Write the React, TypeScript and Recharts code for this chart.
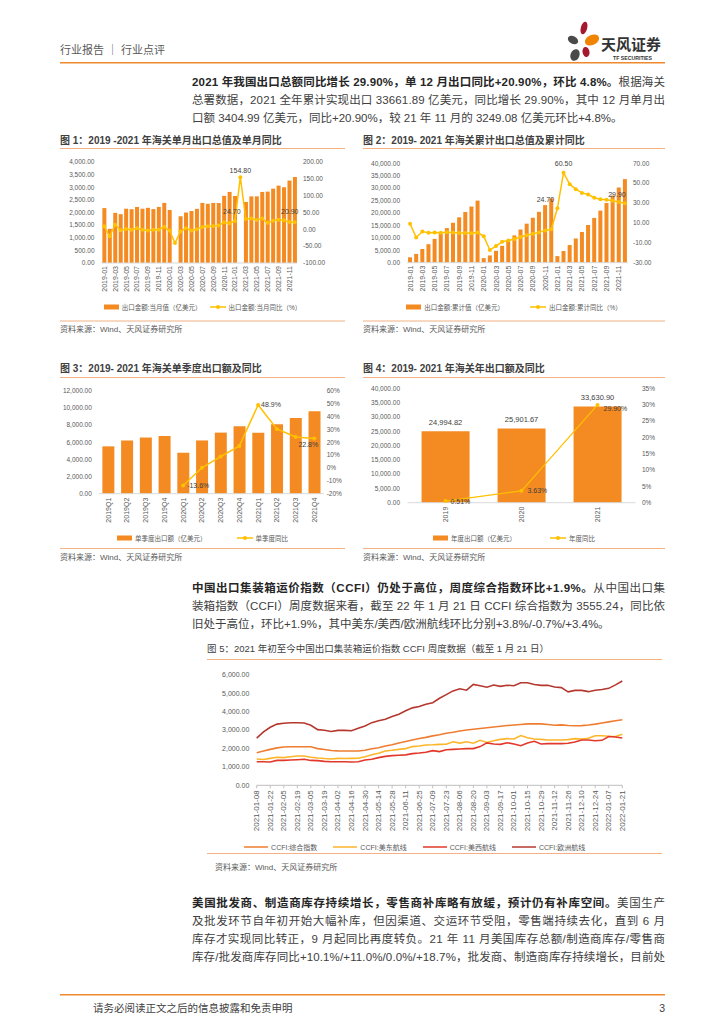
import React from 'react';
import { ComposedChart, LineChart, Bar, Line, XAxis, YAxis, Legend, LabelList } from 'recharts';

const FONT = '"Liberation Sans", "Noto Sans CJK SC", sans-serif';
const ORANGE = '#F48A22';
const GOLD = '#FFC000';
const AXIS_TEXT = '#595959';
const RULE = '#F4B183';

// 图1 / 图2 —— 月度
const months = [
  '2019-01', '2019-02', '2019-03', '2019-04', '2019-05', '2019-06', '2019-07', '2019-08', '2019-09', '2019-10', '2019-11', '2019-12',
  '2020-01', '2020-02', '2020-03', '2020-04', '2020-05', '2020-06', '2020-07', '2020-08', '2020-09', '2020-10', '2020-11', '2020-12',
  '2021-01', '2021-02', '2021-03', '2021-04', '2021-05', '2021-06', '2021-07', '2021-08', '2021-09', '2021-10', '2021-11', '2021-12',
];
const monthlyExport = [
  2175, 1354, 1987, 1934, 2150, 2130, 2220, 2150, 2185, 2135, 2220, 2380,
  2099, null, 1851, 2000, 2060, 2145, 2380, 2345, 2380, 2375, 2660, 2815,
  2655, null, 2415, 2638, 2640, 2814, 2827, 2945, 3065, 3000, 3265, 3405,
];
const monthlyYoy = [
  9.1, -20.7, 13.8, -2.7, 1.1, -1.3, 3.3, -1.0, -3.2, -0.9, -1.1, 7.6,
  -3.5, -40.6, -6.6, 3.5, -3.3, 0.5, 7.2, 9.5, 9.9, 11.4, 21.1, 18.1,
  24.7, 154.8, 30.6, 32.3, 27.9, 32.2, 19.3, 25.6, 28.1, 27.1, 22.0, 20.9,
];
const cumExport = [
  2175, 3529, 5516, 7450, 9588, 11716, 13931, 16079, 18260, 20389, 22606, 24982,
  1850, 2924, 4775, 6778, 8845, 10981, 13354, 15707, 18100, 20472, 23153, 25906,
  2655, 4689, 7101, 9735, 12374, 15188, 18015, 20958, 24015, 27017, 30273, 33640,
];
const cumYoy = [
  9.1, -4.6, 1.4, 0.2, 0.4, 0.1, 0.6, 0.4, -0.1, -0.2, -0.3, 0.5,
  -3.5, -17.2, -13.3, -9.0, -7.7, -6.2, -4.1, -2.3, -0.8, 0.5, 2.5, 3.6,
  24.7, 60.5, 49.0, 44.0, 40.2, 38.6, 35.4, 33.8, 33.3, 32.3, 31.1, 29.9,
];
const fig1LeftTicks = [0, 500, 1000, 1500, 2000, 2500, 3000, 3500, 4000];
const fig1RightTicks = [-100, -50, 0, 50, 100, 150, 200];
const fig2LeftTicks = [0, 5000, 10000, 15000, 20000, 25000, 30000, 35000, 40000];
const fig2RightTicks = [-30, -20, -10, 0, 10, 20, 30, 40, 50, 60, 70];

// 图3 —— 季度
const quarters = ['2019Q1', '2019Q2', '2019Q3', '2019Q4', '2020Q1', '2020Q2', '2020Q3', '2020Q4', '2021Q1', '2021Q2', '2021Q3', '2021Q4'];
const quarterExport = [5516, 6200, 6544, 6722, 4775, 6206, 7119, 7872, 7101, 8087, 8827, 9600];
const quarterYoy = [null, null, null, null, -13.6, 0.1, 8.8, 17.1, 48.9, 30.3, 24.0, 22.8];
const fig3LeftTicks = [0, 2000, 4000, 6000, 8000, 10000, 12000];
const fig3RightTicks = [-20, -10, 0, 10, 20, 30, 40, 50, 60];

// 图4 —— 年度
const years = ['2019', '2020', '2021'];
const annualExport = [24994.82, 25901.67, 33630.9];
const annualYoy = [0.51, 3.63, 29.9];
const fig4LeftTicks = [0, 5000, 10000, 15000, 20000, 25000, 30000, 35000, 40000];
const fig4RightTicks = [0, 5, 10, 15, 20, 25, 30, 35];

// 图5 —— CCFI 周度
const weeks = [
  '2021-01-08', '2021-01-15', '2021-01-22', '2021-01-29', '2021-02-05', '2021-02-12', '2021-02-19', '2021-02-26',
  '2021-03-05', '2021-03-12', '2021-03-19', '2021-03-26', '2021-04-02', '2021-04-09', '2021-04-16', '2021-04-23',
  '2021-04-30', '2021-05-07', '2021-05-14', '2021-05-21', '2021-05-28', '2021-06-04', '2021-06-11', '2021-06-18',
  '2021-06-25', '2021-07-02', '2021-07-09', '2021-07-16', '2021-07-23', '2021-07-30', '2021-08-06', '2021-08-13',
  '2021-08-20', '2021-08-27', '2021-09-03', '2021-09-10', '2021-09-17', '2021-09-24', '2021-10-01', '2021-10-08',
  '2021-10-15', '2021-10-22', '2021-10-29', '2021-11-05', '2021-11-12', '2021-11-19', '2021-11-26', '2021-12-03',
  '2021-12-10', '2021-12-17', '2021-12-24', '2021-12-31', '2022-01-07', '2022-01-14', '2022-01-21',
];
const ccfiComposite = [
  1771, 1860, 1950, 2030, 2080, 2095, 2095, 2095, 2090, 1990, 1940, 1890, 1870, 1860, 1860, 1860,
  1900, 1980, 2040, 2130, 2200, 2300, 2380, 2460, 2540, 2600, 2680, 2740, 2820, 2880, 2950, 3000,
  3040, 3080, 3120, 3160, 3200, 3240, 3270, 3300, 3330, 3340, 3330, 3300, 3260, 3280, 3240, 3230,
  3240, 3270, 3320, 3380, 3440, 3500, 3555,
];
const ccfiUsEast = [
  1430, 1400, 1460, 1520, 1500, 1550, 1590, 1590, 1520, 1480, 1450, 1430, 1460, 1450, 1460, 1470,
  1550, 1660, 1740, 1860, 1900, 1950, 1990, 2100, 2130, 2190, 2200, 2220, 2230, 2360, 2290, 2360,
  2280, 2440, 2320, 2420, 2490, 2530, 2510, 2700, 2580, 2510, 2490, 2460, 2460, 2460, 2480, 2530,
  2510, 2550, 2690, 2690, 2660, 2650, 2770,
];
const ccfiUsWest = [
  1280, 1280, 1265, 1350, 1350, 1370, 1390, 1410, 1350, 1340, 1300, 1280, 1280, 1280, 1265, 1280,
  1370, 1410, 1500, 1570, 1610, 1630, 1650, 1720, 1750, 1790, 1880, 1830, 1930, 1950, 1970, 1990,
  1990, 2100, 2300, 2240, 2220, 2310, 2240, 2150, 2300, 2390, 2240, 2260, 2260, 2260, 2280, 2350,
  2460, 2460, 2420, 2440, 2650, 2620, 2570,
];
const ccfiEurope = [
  2560, 2900, 3150, 3320, 3370, 3390, 3390, 3380, 3260, 3020, 2990, 2920, 2980, 2980, 2960, 3090,
  3220, 3400, 3500, 3580, 3730, 3860, 4040, 4200, 4270, 4400, 4480, 4720, 4920, 5120, 5240, 5160,
  5470, 5400, 5320, 5440, 5370, 5430, 5400, 5560, 5560, 5470, 5420, 5430, 5330, 5300, 5070, 5150,
  5150, 5080, 5160, 5200, 5260, 5450, 5660,
];
const fig5Ticks = [0, 1000, 2000, 3000, 4000, 5000, 6000];

const fig1Data = months.map((m, i) => ({ m, v: monthlyExport[i], yoy: monthlyYoy[i] }));
const fig2Data = months.map((m, i) => ({ m, v: cumExport[i], yoy: cumYoy[i] }));
const fig3Data = quarters.map((m, i) => ({ m, v: quarterExport[i], yoy: quarterYoy[i] }));
const fig4Data = years.map((m, i) => ({ m, v: annualExport[i], yoy: annualYoy[i] }));
const fig5Data = weeks.map((m, i) => ({
  m, comp: ccfiComposite[i], east: ccfiUsEast[i], west: ccfiUsWest[i], eu: ccfiEurope[i],
}));

const money = (v: number) => v.toLocaleString('en-US', { minimumFractionDigits: 2, maximumFractionDigits: 2 });
const fix2 = (v: number) => v.toFixed(2);
const pct = (v: number) => `${v}%`;
const pct1 = (v: number) => `${v.toFixed(1)}%`;
const pct2 = (v: number) => `${v.toFixed(2)}%`;

const yTick = { fontSize: 6.5, fill: AXIS_TEXT, fontFamily: FONT };

const RotTick = ({ x, y, payload, size }: any) => (
  <text x={x} y={y} transform={`rotate(-90 ${x} ${y})`} textAnchor="end" dominantBaseline="central"
    fontSize={size} fill={AXIS_TEXT} fontFamily={FONT}>
    {payload.value}
  </text>
);

type LegItem = { kind: 'bar' | 'line' | 'dotline'; color: string; label: string };
const LegendRow = ({ items, gap, fontSize, height, lineLen = 16 }: { items: LegItem[]; gap: number; fontSize: number; height: number; lineLen?: number }) => (
  <div style={{ display: 'flex', justifyContent: 'center', alignItems: 'center', height, gap, fontFamily: FONT, fontSize, color: AXIS_TEXT, whiteSpace: 'nowrap' }}>
    {items.map((it) => (
      <span key={it.label} style={{ display: 'flex', alignItems: 'center', gap: 3 }}>
        <svg width={it.kind === 'bar' ? 15 : lineLen} height={8}>
          {it.kind === 'bar' ? (
            <rect x={0} y={1.5} width={15} height={5} fill={it.color} />
          ) : (
            <>
              <line x1={0} y1={4} x2={lineLen} y2={4} stroke={it.color} strokeWidth={1.5} />
              {it.kind === 'dotline' && <circle cx={lineLen / 2} cy={4} r={2} fill={it.color} />}
            </>
          )}
        </svg>
        {it.label}
      </span>
    ))}
  </div>
);

// 只给指定的点加数值标签
const pointLabels = (spots: Record<number, [number, number, string]>, fmt: (v: number) => string) => (p: any) => {
  const s = spots[p.index];
  if (!s || p.value == null) return null;
  const x = p.x ?? p.viewBox?.x;
  const y = p.y ?? p.viewBox?.y;
  return (
    <text key={`pl-${p.index}`} x={x + s[0]} y={y + s[1]} textAnchor={s[2] as any} dominantBaseline="central"
      fontSize={7} fill="#404040" fontFamily={FONT}>
      {fmt(p.value)}
    </text>
  );
};

const barTopLabel = (p: any) => {
  const vb = p.viewBox ?? p;
  const x = (vb.x ?? p.x) + (vb.width ?? p.width) / 2;
  const y = vb.y ?? p.y;
  return (
    <text key={`bl-${p.index}`} x={x} y={y - 9} textAnchor="middle" dominantBaseline="central" fontSize={7.5} fill="#404040" fontFamily={FONT}>
      {money(p.value)}
    </text>
  );
};

const Fig1 = () => (
  <ComposedChart width={285} height={170} data={fig1Data} margin={{ top: 12, right: 0, bottom: 5, left: 0 }} barCategoryGap="16%">
    <XAxis dataKey="m" interval={1} height={36} tickSize={0} tickMargin={3} tickLine={false} axisLine={{ stroke: '#D9D9D9' }}
      tick={(p: any) => <RotTick {...p} size={7} />} />
    <YAxis yAxisId="l" width={41.5} domain={[0, 4000]} ticks={fig1LeftTicks} tickFormatter={money} axisLine={false} tickLine={false} tickSize={0} tickMargin={7} tick={yTick} />
    <YAxis yAxisId="r" orientation="right" width={47.5} domain={[-100, 200]} ticks={fig1RightTicks} tickFormatter={money} axisLine={false} tickLine={false} tickSize={0} tickMargin={5.5} tick={yTick} />
    <Bar yAxisId="l" dataKey="v" fill={ORANGE} isAnimationActive={false} />
    <Line yAxisId="r" dataKey="yoy" stroke={GOLD} strokeWidth={1.5} dot={{ r: 2, fill: GOLD, stroke: 'none' }} activeDot={false} isAnimationActive={false}>
      <LabelList dataKey="yoy" content={pointLabels({ 24: [-3, -10, 'middle'], 25: [0, -7, 'middle'], 35: [-5, -11, 'middle'] }, fix2)} />
    </Line>
    <Legend verticalAlign="bottom" content={() => (
      <LegendRow height={16} gap={8} fontSize={6.5} items={[
        { kind: 'bar', color: ORANGE, label: '出口金额:当月值（亿美元）' },
        { kind: 'dotline', color: GOLD, label: '出口金额:当月同比（%）' },
      ]} />
    )} />
  </ComposedChart>
);

const Fig2 = () => (
  <ComposedChart width={302} height={170} data={fig2Data} margin={{ top: 13.3, right: 0, bottom: 5, left: 0 }} barCategoryGap="17%">
    <XAxis dataKey="m" interval={1} height={36.3} tickSize={0} tickMargin={3} tickLine={false} axisLine={{ stroke: '#D9D9D9' }}
      tick={(p: any) => <RotTick {...p} size={7} />} />
    <YAxis yAxisId="l" width={44} domain={[0, 40000]} ticks={fig2LeftTicks} tickFormatter={money} axisLine={false} tickLine={false} tickSize={0} tickMargin={7} tick={yTick} />
    <YAxis yAxisId="r" orientation="right" width={37} domain={[-30, 70]} ticks={fig2RightTicks} tickFormatter={money} axisLine={false} tickLine={false} tickSize={0} tickMargin={5} tick={yTick} />
    <Bar yAxisId="l" dataKey="v" fill={ORANGE} isAnimationActive={false} />
    <Line yAxisId="r" dataKey="yoy" stroke={GOLD} strokeWidth={1.5} dot={{ r: 2, fill: GOLD, stroke: 'none' }} activeDot={false} isAnimationActive={false}>
      <LabelList dataKey="yoy" content={pointLabels({ 24: [-12, -9, 'middle'], 25: [0, -9, 'middle'], 35: [-8, -9, 'middle'] }, fix2)} />
    </Line>
    <Legend verticalAlign="bottom" content={() => (
      <LegendRow height={16} gap={26} fontSize={6.5} items={[
        { kind: 'bar', color: ORANGE, label: '出口金额:累计值（亿美元）' },
        { kind: 'dotline', color: GOLD, label: '出口金额:累计同比（%）' },
      ]} />
    )} />
  </ComposedChart>
);

const Fig3 = () => (
  <ComposedChart width={285} height={170} data={fig3Data} margin={{ top: 12.7, right: 0, bottom: 2, left: 0 }} barCategoryGap="19%">
    <XAxis dataKey="m" interval={0} height={36.3} tickSize={0} tickMargin={4} tickLine={false} axisLine={{ stroke: '#D9D9D9' }}
      tick={(p: any) => <RotTick {...p} size={7} />} />
    <YAxis yAxisId="l" width={38.8} domain={[0, 12000]} ticks={fig3LeftTicks} tickFormatter={money} axisLine={false} tickLine={false} tickSize={0} tickMargin={7} tick={yTick} />
    <YAxis yAxisId="r" orientation="right" width={21.3} domain={[-20, 60]} ticks={fig3RightTicks} tickFormatter={pct} axisLine={false} tickLine={false} tickSize={0} tickMargin={3} tick={yTick} />
    <Bar yAxisId="l" dataKey="v" fill={ORANGE} isAnimationActive={false} />
    <Line yAxisId="r" dataKey="yoy" stroke={GOLD} strokeWidth={1.5} dot={{ r: 2, fill: GOLD, stroke: 'none' }} activeDot={false} isAnimationActive={false}>
      <LabelList dataKey="yoy" content={pointLabels({ 4: [4, 0, 'start'], 8: [3, 0, 'start'], 11: [-6, 6, 'middle'] }, pct1)} />
    </Line>
    <Legend verticalAlign="bottom" content={() => (
      <LegendRow height={16} gap={30} fontSize={6.5} items={[
        { kind: 'bar', color: ORANGE, label: '单季度出口额（亿美元）' },
        { kind: 'dotline', color: GOLD, label: '单季度同比' },
      ]} />
    )} />
  </ComposedChart>
);

const Fig4 = () => (
  <ComposedChart width={302} height={170} data={fig4Data} margin={{ top: 10.3, right: 0, bottom: 2, left: 0 }} barCategoryGap="18.5%">
    <XAxis dataKey="m" interval={0} height={27.3} tickSize={0} tickMargin={4} tickLine={false} axisLine={{ stroke: '#D9D9D9' }}
      tick={(p: any) => <RotTick {...p} size={7} />} />
    <YAxis yAxisId="l" width={44.5} domain={[0, 40000]} ticks={fig4LeftTicks} tickFormatter={money} axisLine={false} tickLine={false} tickSize={0} tickMargin={7.5} tick={yTick} />
    <YAxis yAxisId="r" orientation="right" width={29.5} domain={[0, 35]} ticks={fig4RightTicks} tickFormatter={pct} axisLine={false} tickLine={false} tickSize={0} tickMargin={6.5} tick={yTick} />
    <Bar yAxisId="l" dataKey="v" fill={ORANGE} isAnimationActive={false}>
      <LabelList dataKey="v" content={barTopLabel} />
    </Bar>
    <Line yAxisId="r" dataKey="yoy" stroke={GOLD} strokeWidth={1.2} dot={{ r: 2, fill: GOLD, stroke: 'none' }} activeDot={false} isAnimationActive={false}>
      <LabelList dataKey="yoy" content={pointLabels({ 0: [5, 0, 'start'], 1: [6, 0, 'start'], 2: [6, 4, 'start'] }, pct2)} />
    </Line>
    <Legend verticalAlign="bottom" content={() => (
      <LegendRow height={16} gap={34} fontSize={6.5} items={[
        { kind: 'bar', color: ORANGE, label: '年度出口额（亿美元）' },
        { kind: 'dotline', color: GOLD, label: '年度同比' },
      ]} />
    )} />
  </ComposedChart>
);

const ccfiSeries = [
  { key: 'comp', color: '#EE7D31', label: 'CCFI:综合指数' },
  { key: 'east', color: '#FDB52A', label: 'CCFI:美东航线' },
  { key: 'west', color: '#E2382A', label: 'CCFI:美西航线' },
  { key: 'eu', color: '#B5382E', label: 'CCFI:欧洲航线' },
];

const Fig5 = () => (
  <LineChart width={455} height={196} data={fig5Data} margin={{ top: 14.7, right: 39.7, bottom: 2, left: 0 }}>
    <XAxis dataKey="m" scale="point" interval={1} height={54.7} tickSize={3} tickMargin={2} tickLine={{ stroke: '#BFBFBF' }} axisLine={{ stroke: '#BFBFBF' }}
      tick={(p: any) => <RotTick {...p} size={8} />} />
    <YAxis width={49.7} domain={[0, 6000]} ticks={fig5Ticks} tickFormatter={money} axisLine={false} tickLine={false} tickSize={0} tickMargin={7.4}
      tick={{ fontSize: 7, fill: AXIS_TEXT, fontFamily: FONT }} />
    {ccfiSeries.map((s) => (
      <Line key={s.key} dataKey={s.key} stroke={s.color} strokeWidth={1.6} dot={false} activeDot={false} isAnimationActive={false} />
    ))}
    <Legend verticalAlign="bottom" content={() => (
      <LegendRow height={14} gap={16} fontSize={7} lineLen={24}
        items={ccfiSeries.map((s) => ({ kind: 'line' as const, color: s.color, label: s.label }))} />
    )} />
  </LineChart>
);

const B = ({ children }: { children: React.ReactNode }) => <tspan fontWeight={700} fill="#262626">{children}</tspan>;

const ParaLine = ({ y, full, children }: { y: number; full?: boolean; children: React.ReactNode }) => (
  <text x={192} y={y} fontSize={11.5} fill="#404040" dominantBaseline="central"
    {...(full ? { textLength: 473, lengthAdjust: 'spacing' } : {})}>
    {children}
  </text>
);

const Logo = () => (
  <g>
    <ellipse cx={584} cy={28} rx={3.2} ry={6.5} fill="#A5192E" transform="rotate(15 584 28)" />
    <ellipse cx={592} cy={40} rx={7.5} ry={5} fill="#F08300" transform="rotate(-25 592 40)" />
    <ellipse cx={573} cy={40} rx={5.5} ry={3.8} fill="#4A4A4A" transform="rotate(30 573 40)" />
    <ellipse cx={586} cy={52} rx={3.5} ry={5} fill="#A5192E" transform="rotate(-10 586 52)" />
    <ellipse cx={575} cy={55} rx={4.5} ry={6} fill="#4A4A4A" transform="rotate(20 575 55)" />
    <text x={601} y={44} fontSize={15} fontWeight={700} fill="#333" dominantBaseline="central">天风证券</text>
    <text x={613} y={57.5} fontSize={5.2} fontWeight={700} fill="#333" dominantBaseline="central">TF SECURITIES</text>
  </g>
);

const SRC = '资料来源：Wind、天风证券研究所';

const PageText = () => (
  <svg width={724} height={1024} style={{ position: 'absolute', left: 0, top: 0 }} fontFamily={FONT}>
    <text x={60} y={50} fontSize={11} fill={AXIS_TEXT} dominantBaseline="central">行业报告 ｜ 行业点评</text>
    <Logo />
    <rect x={60} y={62} width={605} height={1.5} fill="#EE8A2C" />

    <ParaLine y={82} full><B>2021 年我国出口总额同比增长 29.90%，单 12 月出口同比+20.90%，环比 4.8%。</B>根据海关</ParaLine>
    <ParaLine y={100} full>总署数据，2021 全年累计实现出口 33661.89 亿美元，同比增长 29.90%，其中 12 月单月出</ParaLine>
    <ParaLine y={118}>口额 3404.99 亿美元，同比+20.90%，较 21 年 11 月的 3249.08 亿美元环比+4.8%。</ParaLine>

    <text x={60} y={140} fontSize={10} fontWeight={700} fill="#404040" dominantBaseline="central">图 1：2019 -2021 年海关单月出口总值及单月同比</text>
    <text x={363} y={140} fontSize={10} fontWeight={700} fill="#404040" dominantBaseline="central">图 2：2019- 2021 年海关累计出口总值及累计同比</text>
    <rect x={60} y={148} width={285} height={1} fill={RULE} />
    <rect x={363} y={148} width={302} height={1} fill={RULE} />
    <rect x={60} y={320.5} width={285} height={1} fill={RULE} />
    <rect x={363} y={320.5} width={302} height={1} fill={RULE} />
    <text x={60} y={329} fontSize={8} fill={AXIS_TEXT} dominantBaseline="central">{SRC}</text>
    <text x={363} y={329} fontSize={8} fill={AXIS_TEXT} dominantBaseline="central">{SRC}</text>

    <text x={60} y={368} fontSize={10} fontWeight={700} fill="#404040" dominantBaseline="central">图 3：2019- 2021 年海关单季度出口额及同比</text>
    <text x={363} y={368} fontSize={10} fontWeight={700} fill="#404040" dominantBaseline="central">图 4：2019- 2021 年海关年出口额及同比</text>
    <rect x={60} y={377} width={285} height={1} fill={RULE} />
    <rect x={363} y={377} width={302} height={1} fill={RULE} />
    <rect x={60} y={548} width={285} height={1} fill={RULE} />
    <rect x={363} y={548} width={302} height={1} fill={RULE} />
    <text x={60} y={557} fontSize={8} fill={AXIS_TEXT} dominantBaseline="central">{SRC}</text>
    <text x={363} y={557} fontSize={8} fill={AXIS_TEXT} dominantBaseline="central">{SRC}</text>

    <ParaLine y={588} full><B>中国出口集装箱运价指数（CCFI）仍处于高位，周度综合指数环比+1.9%。</B>从中国出口集</ParaLine>
    <ParaLine y={606} full>装箱指数（CCFI）周度数据来看，截至 22 年 1 月 21 日 CCFI 综合指数为 3555.24，同比依</ParaLine>
    <ParaLine y={624}>旧处于高位，环比+1.9%，其中美东/美西/欧洲航线环比分别+3.8%/-0.7%/+3.4%。</ParaLine>

    <text x={207} y={648} fontSize={9.5} fill="#404040" dominantBaseline="central">图 5：2021 年初至今中国出口集装箱运价指数 CCFI 周度数据（截至 1 月 21 日）</text>
    <rect x={207} y={659} width={455} height={1} fill={RULE} />
    <rect x={207} y={853} width={455} height={1} fill={RULE} />
    <text x={215} y={867} fontSize={8} fill={AXIS_TEXT} dominantBaseline="central">{SRC}</text>

    <ParaLine y={903} full><B>美国批发商、制造商库存持续增长，零售商补库略有放缓，预计仍有补库空间。</B>美国生产</ParaLine>
    <ParaLine y={921} full>及批发环节自年初开始大幅补库，但因渠道、交运环节受阻，零售端持续去化，直到 6 月</ParaLine>
    <ParaLine y={939} full>库存才实现同比转正，9 月起同比再度转负。21 年 11 月美国库存总额/制造商库存/零售商</ParaLine>
    <ParaLine y={957} full>库存/批发商库存同比+10.1%/+11.0%/0.0%/+18.7%，批发商、制造商库存持续增长，目前处</ParaLine>

    <rect x={60} y={994} width={605} height={1.5} fill="#EE8A2C" />
    <text x={93} y={1008} fontSize={10.5} fill="#404040" dominantBaseline="central">请务必阅读正文之后的信息披露和免责申明</text>
    <text x={665} y={1008} fontSize={10.5} fill="#404040" dominantBaseline="central" textAnchor="end">3</text>
  </svg>
);

const Box = ({ left, top, children }: { left: number; top: number; children: React.ReactNode }) => (
  <div style={{ position: 'absolute', left, top }}>{children}</div>
);

export default function App() {
  return (
    <div style={{ position: 'absolute', left: 0, top: 0, width: 724, height: 1024, background: '#fff', fontFamily: FONT, overflow: 'hidden' }}>
      <PageText />
      <Box left={60} top={150}><Fig1 /></Box>
      <Box left={363} top={150}><Fig2 /></Box>
      <Box left={60} top={378}><Fig3 /></Box>
      <Box left={363} top={378}><Fig4 /></Box>
      <Box left={207} top={660}><Fig5 /></Box>
    </div>
  );
}
